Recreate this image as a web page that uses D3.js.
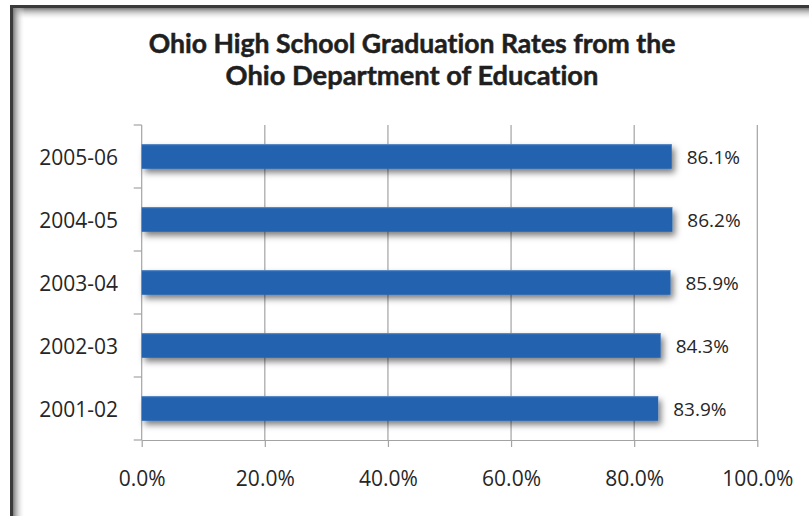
<!DOCTYPE html>
<html><head><meta charset="utf-8">
<script src="https://cdn.jsdelivr.net/npm/d3@7"></script>
<style>html,body{margin:0;padding:0;background:#fff;}svg{display:block;} text{font-variant-ligatures:none;font-feature-settings:"liga" 0;}</style>
</head><body>
<script>
const categories = ["2005-06","2004-05","2003-04","2002-03","2001-02"];
const values = [86.1, 86.2, 85.9, 84.3, 83.9];
const xTicks = [0, 20, 40, 60, 80, 100];
const titleLines = ["Ohio High School Graduation Rates from the", "Ohio Department of Education"];

const W = 809, H = 516;
const svg = d3.select("body").append("svg").attr("width", W).attr("height", H);
const defs = svg.append("defs");

const gTop = defs.append("linearGradient").attr("id","gTop").attr("x1",0).attr("y1",0).attr("x2",0).attr("y2",1);
gTop.append("stop").attr("offset",0).attr("stop-color","#7a7a7a");
gTop.append("stop").attr("offset",1).attr("stop-color","#ffffff").attr("stop-opacity",0);
const gLeft = defs.append("linearGradient").attr("id","gLeft").attr("x1",0).attr("y1",0).attr("x2",1).attr("y2",0);
gLeft.append("stop").attr("offset",0).attr("stop-color","#7a7a7a");
gLeft.append("stop").attr("offset",1).attr("stop-color","#ffffff").attr("stop-opacity",0);

const shadow = defs.append("filter").attr("id","shadow").attr("x","-5%").attr("y","-50%").attr("width","115%").attr("height","220%");
shadow.append("feDropShadow").attr("dx",3).attr("dy",4).attr("stdDeviation",3)
  .attr("flood-color","#000").attr("flood-opacity",0.5);

// frame
svg.append("rect").attr("x",13).attr("y",8).attr("width",W).attr("height",12).attr("fill","url(#gTop)");
svg.append("rect").attr("x",13).attr("y",8).attr("width",12).attr("height",H).attr("fill","url(#gLeft)");
svg.append("rect").attr("x",10).attr("y",5).attr("width",W).attr("height",3).attr("fill","#3a3a3a");
svg.append("rect").attr("x",10).attr("y",5).attr("width",3).attr("height",H).attr("fill","#3a3a3a");

const plot = {left: 141.7, right: 757.3, top: 125, bottom: 440};
const x = d3.scaleLinear().domain([0, 100]).range([plot.left, plot.right]);
const y = d3.scaleBand().domain(categories).range([plot.top, plot.bottom]).paddingInner(0.61).paddingOuter(0.305);
const yb = d3.scaleBand().domain(categories).range([plot.top, plot.bottom]);

const gridColor = "#a3a3a3";
svg.append("g").selectAll("line").data(xTicks.filter(d => d > 0)).join("line")
  .attr("x1", d => x(d)).attr("x2", d => x(d))
  .attr("y1", plot.top).attr("y2", plot.bottom)
  .attr("stroke", gridColor).attr("stroke-width", 1.2);

const xAxis = d3.axisBottom(x).tickValues(xTicks).tickSize(7).tickSizeOuter(0)
  .tickFormat(d => d3.format(".1f")(d) + "%");
const gx = svg.append("g").attr("transform", `translate(0,${plot.bottom})`).call(xAxis);
gx.select(".domain").attr("stroke", gridColor).attr("stroke-width", 1.2);
gx.selectAll(".tick line").attr("stroke", gridColor).attr("stroke-width", 1.2);
gx.selectAll(".tick text").attr("y", 46).attr("dy", 0)
  .attr("font-family", "'Open Sans', sans-serif").attr("font-size", 21).attr("fill", "#262626");

svg.append("line").attr("x1", plot.left).attr("x2", plot.left).attr("y1", plot.top).attr("y2", plot.bottom)
  .attr("stroke", gridColor).attr("stroke-width", 1.2);
const bounds = categories.map(c => yb(c)).concat([plot.bottom]);
svg.append("g").selectAll("line").data(bounds).join("line")
  .attr("x1", plot.left - 8).attr("x2", plot.left)
  .attr("y1", d => d).attr("y2", d => d)
  .attr("stroke", gridColor).attr("stroke-width", 1.2);
svg.append("g").selectAll("text").data(categories).join("text")
  .attr("x", 118).attr("y", d => yb(d) + yb.bandwidth() / 2 + 8)
  .attr("text-anchor", "end")
  .attr("font-family", "'Open Sans', sans-serif").attr("font-size", 21).attr("fill", "#262626")
  .text(d => d);

const data = categories.map((c, i) => ({c, v: values[i]}));
svg.append("g").selectAll("rect").data(data).join("rect")
  .attr("x", x(0)).attr("y", d => y(d.c))
  .attr("width", d => x(d.v) - x(0)).attr("height", y.bandwidth())
  .attr("fill", "#2462ae").attr("filter", "url(#shadow)");
svg.append("g").selectAll("line").data(data).join("line")
  .attr("x1", x(0)).attr("x2", d => x(d.v))
  .attr("y1", d => y(d.c) + 0.5).attr("y2", d => y(d.c) + 0.5)
  .attr("stroke", "#5c8bc8").attr("stroke-width", 1);

svg.append("g").selectAll("text").data(data).join("text")
  .attr("x", d => x(d.v) + 15).attr("y", d => y(d.c) + y.bandwidth() / 2 + 7)
  .attr("font-family", "'Open Sans', sans-serif").attr("font-size", 19).attr("fill", "#262626")
  .text(d => d3.format(".1f")(d.v) + "%");

const targetW = [527, 373];
const baselines = [53, 85];
titleLines.forEach((t, i) => {
  const tx = svg.append("text").attr("x", 412).attr("y", baselines[i])
    .attr("text-anchor", "middle")
    .attr("font-family", "Lato, 'Open Sans', sans-serif").attr("font-weight", "bold")
    .attr("font-size", 24).attr("fill", "#1f1f1f")
    .attr("stroke", "#1f1f1f").attr("stroke-width", 0.5)
    .text(t);
  const w = tx.node().getComputedTextLength();
  tx.attr("font-size", 24 * targetW[i] / w);
});
</script>
</body></html>
